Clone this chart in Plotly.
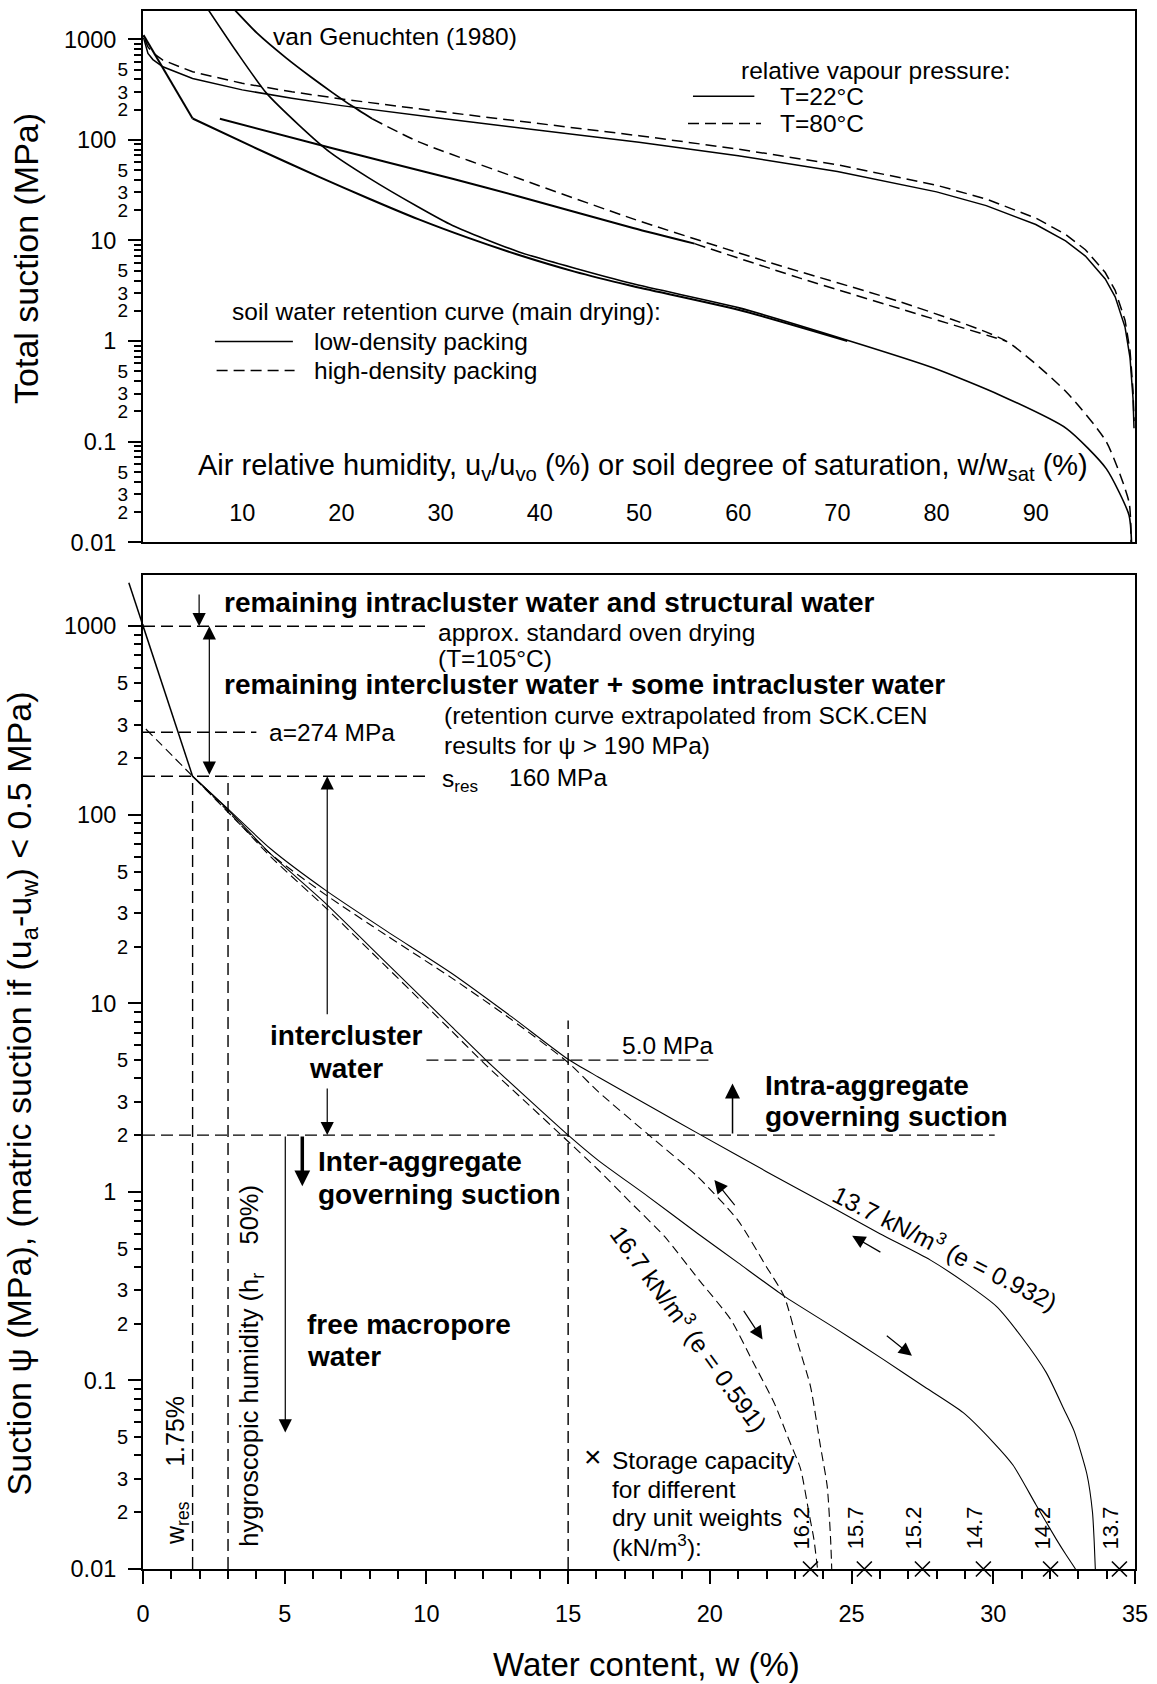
import math
import plotly.graph_objects as go

FONT = "Liberation Sans, Arial, Helvetica, sans-serif"
INK = "black"

# ---------------- upper panel: total suction vs u_v/u_vo or w/w_sat (%) ----------------
# relative vapour pressure curves
rh_t22 = [0.05, 0.5, 1, 2, 5, 10, 15, 20, 30, 40, 50, 60, 70, 80, 85, 90, 93, 95, 97, 98, 99, 99.5, 99.8, 99.9]
psi_t22 = [1040, 722, 628, 533, 408, 314, 259, 219, 164, 125, 94.5, 69.6, 48.6, 30.4, 22.2, 14.4, 9.9, 7.0,
           4.15, 2.75, 1.37, 0.68, 0.27, 0.136]
rh_t80 = [0.2, 0.5, 1, 2, 5, 10, 15, 20, 30, 40, 50, 60, 70, 80, 85, 90, 93, 95, 97, 98, 99, 99.5, 99.8, 99.9]
psi_t80 = [986, 840, 731, 621, 475, 365, 301, 255, 191, 145, 110, 81, 56.6, 35.4, 25.8, 16.7, 11.5, 8.1,
           4.8, 3.2, 1.6, 0.8, 0.32, 0.16]

# soil water retention, main drying (degree of saturation %)
sr_low_steep = [0.05, 5.0]
psi_low_steep = [1100, 163]
sr_low = [5.0, 11.1, 17.8, 22.8, 27.8, 32.8, 37.9, 43.5, 49.2, 60, 71]
psi_low = [163, 85, 42.7, 26, 16.2, 10.6, 7.16, 4.9, 3.55, 2.05, 1.0]

sr_high_solid = [7.75, 18.8, 31.2, 37.9, 49.4, 55.6]
psi_high_solid = [162, 84, 41, 27.4, 13.3, 9.3]
sr_high_dash = [55.6, 66.3, 76.3, 87]
psi_high_dash = [9.3, 4.2, 2.1, 1.0]

# van Genuchten (1980) fits
sr_vg1 = [6.6, 9.4, 12.4, 15.8, 18.8, 22.8, 27.8, 31.2, 37.9, 49.2, 60, 71, 79.7, 86.4, 93.1, 97.1, 99.4, 99.65]
psi_vg1 = [1950, 759, 295, 138, 76, 41.7, 21.4, 14.1, 7.7, 3.75, 2.15, 1.02, 0.54, 0.29, 0.135, 0.054, 0.0186, 0.01]
sr_vg2_solid = [9.26, 11.5, 14.45, 17.0, 19.1, 21.0, 23.1]
psi_vg2_solid = [1950, 1150, 650, 417, 295, 219, 162]
sr_vg2_dash = [23.1, 27.8, 37.9, 49.4, 63, 76.3, 87, 93.1, 97.1, 99.4, 99.6]
psi_vg2_dash = [162, 95.5, 41.3, 16.4, 6.1, 2.46, 1.0, 0.31, 0.1, 0.025, 0.01]

rh_ticks = [10, 20, 30, 40, 50, 60, 70, 80, 90]

# ---------------- lower panel: suction vs water content w (%) ----------------
# dry branch below the residual point (continues past w = 0)
w_dry_limit = [-0.5, 1.75]
psi_dry_limit = [1700, 160]

# 13.7 kN/m3 (e = 0.932)
w_s1 = [1.75, 2.95, 4.5, 6.46, 8.57, 10.9, 13.0, 15.0, 16.06, 17.9, 19.69, 22.0, 24.26, 26.0, 27.77, 29.0,
        30.11, 31.0, 31.87, 32.5, 32.85, 33.3, 33.5, 33.56, 33.6]
psi_s1 = [160, 109, 66, 39.6, 24.3, 14.4, 8.5, 5.05, 4.07, 2.84, 2.0, 1.28, 0.836, 0.6, 0.436, 0.33,
          0.247, 0.17, 0.11, 0.07, 0.054, 0.032, 0.02, 0.014, 0.01]
w_s2 = [1.75, 2.95, 4.5, 6.46, 8.57, 10.9, 12.1, 13.5, 15.0, 16.06, 17.8, 19.58, 21.0, 22.62, 24.4, 26.13,
        27.5, 28.94, 30.0, 30.7, 31.5, 32.22, 32.55, 32.9]
psi_s2 = [160, 108, 62, 33.7, 16.5, 7.5, 5.0, 3.2, 2.0, 1.47, 0.95, 0.60, 0.42, 0.28, 0.19, 0.129,
          0.094, 0.0675, 0.047, 0.0355, 0.022, 0.0144, 0.012, 0.01]

# 16.7 kN/m3 (e = 0.591)
w_da = [0.1, 1.75, 2.95, 4.5, 6.46, 8.57, 10.9, 13.0, 15.0, 16.06, 17.8, 19.58, 20.98, 22.0, 22.62, 23.1,
        23.55, 23.9, 24.14, 24.26, 24.3]
psi_da = [285, 160, 105, 62, 37.5, 23, 13.6, 8.2, 4.85, 3.4, 2.03, 1.2, 0.71, 0.40, 0.28, 0.158,
          0.093, 0.045, 0.0275, 0.0144, 0.01]
w_db = [1.75, 2.95, 4.5, 6.46, 8.57, 10.9, 12.1, 13.5, 15.0, 16.06, 17.2, 18.4, 19.6, 20.74, 21.5, 22.27,
        22.8, 23.2, 23.5, 23.67, 23.8]
psi_db = [160, 106, 60, 32, 15.7, 7.1, 4.7, 3.0, 1.85, 1.31, 0.88, 0.58, 0.344, 0.21, 0.127, 0.076,
          0.048, 0.034, 0.0197, 0.0144, 0.01]

# storage capacity for different dry unit weights
w_storage = [23.55, 25.45, 27.5, 29.65, 32.02, 34.45]
gamma_d_labels = ["16.2", "15.7", "15.2", "14.7", "14.2", "13.7"]

# reference suction levels (MPa) and water contents (%)
psi_oven = 1000
psi_a = 274
psi_res = 160
psi_5 = 5.0
psi_2 = 2.0
w_res = 1.75
w_hygro = 3.0
w_15 = 15.0

decade_vals = [0.01, 0.1, 1, 10, 100, 1000]
decade_text = ["0.01", "0.1", "1", "10", "100", "1000"]
minor_vals = [m * d for d in decade_vals for m in range(2, 10)]
minor_text = [str(m) if m in (2, 3, 5) else "" for d in decade_vals for m in range(2, 10)]
w_ticks = [0, 5, 10, 15, 20, 25, 30, 35]

TOP_RANGE = [-2, 3.281]
BOT_RANGE = [-2, 3.274]
W_RANGE = [0, 35]

DASH_TOP = "11px,6px"
DASH_CURVE = "9px,5px"
DASH_GUIDE = "12px,6px"

fig = go.Figure()


def line(x, y, xa, ya, width=1.5, dash="solid", shape="spline"):
    fig.add_trace(go.Scatter(
        x=x, y=y, mode="lines", xaxis=xa, yaxis=ya,
        line=dict(color=INK, width=width, dash=dash, shape=shape, smoothing=0.6),
        showlegend=False, hoverinfo="skip"))


# upper panel curves
line(rh_t22, psi_t22, "x", "y", 1.5, shape="linear")
line(rh_t80, psi_t80, "x", "y", 1.5, DASH_TOP, shape="linear")
line(sr_low_steep, psi_low_steep, "x", "y", 2.0, shape="linear")
line(sr_low, psi_low, "x", "y", 2.0)
line(sr_high_solid, psi_high_solid, "x", "y", 2.0)
line(sr_high_dash, psi_high_dash, "x", "y", 1.5, DASH_TOP)
line(sr_vg1, psi_vg1, "x", "y", 1.6)
line(sr_vg2_solid, psi_vg2_solid, "x", "y", 1.8)
line(sr_vg2_dash, psi_vg2_dash, "x", "y", 1.5, DASH_TOP)

# lower panel guide lines
line([0, 10], [psi_oven, psi_oven], "x2", "y2", 1.4, DASH_GUIDE, "linear")
line([0, 4.0], [psi_a, psi_a], "x2", "y2", 1.4, DASH_GUIDE, "linear")
line([0, 10], [psi_res, psi_res], "x2", "y2", 1.4, DASH_GUIDE, "linear")
line([10, 20], [psi_5, psi_5], "x2", "y2", 1.4, DASH_GUIDE, "linear")
line([0, 30.05], [psi_2, psi_2], "x2", "y2", 1.4, DASH_GUIDE, "linear")
line([w_res, w_res], [0.01, psi_res], "x2", "y2", 1.4, DASH_GUIDE, "linear")
line([w_hygro, w_hygro], [0.01, psi_res], "x2", "y2", 1.4, DASH_GUIDE, "linear")
line([w_15, w_15], [0.01, 8.1], "x2", "y2", 1.4, DASH_GUIDE, "linear")

# lower panel retention curves
line(w_dry_limit, psi_dry_limit, "x2", "y2", 1.5, shape="linear")
line(w_s1, psi_s1, "x2", "y2", 1.1)
line(w_s2, psi_s2, "x2", "y2", 1.1)
line(w_da, psi_da, "x2", "y2", 1.1, DASH_CURVE)
line(w_db, psi_db, "x2", "y2", 1.1, DASH_CURVE)


# the dry branch runs past the left axis: draw that bit unclipped in domain units
def to_domain(w, psi):
    return ((w - W_RANGE[0]) / (W_RANGE[1] - W_RANGE[0]),
            (math.log10(psi) - BOT_RANGE[0]) / (BOT_RANGE[1] - BOT_RANGE[0]))


(dx0, dy0), (dx1, dy1) = to_domain(w_dry_limit[0], psi_dry_limit[0]), to_domain(w_dry_limit[1], psi_dry_limit[1])
cut = (0 - dx0) / (dx1 - dx0)
fig.add_shape(type="line", xref="x2 domain", yref="y2 domain", x0=dx0, y0=dy0,
              x1=0, y1=dy0 + cut * (dy1 - dy0), line=dict(color=INK, width=1.5))

fig.add_trace(go.Scatter(
    x=w_storage, y=[0.01] * len(w_storage), mode="markers", xaxis="x2", yaxis="y2",
    marker=dict(symbol="x-thin", size=15, line=dict(width=1.6, color=INK)),
    cliponaxis=False, showlegend=False, hoverinfo="skip"))

# carriers for the helper axes (minor ticks, saturation labels)
fig.add_trace(go.Scatter(x=[None], y=[None], xaxis="x", yaxis="y3", showlegend=False, hoverinfo="skip"))
fig.add_trace(go.Scatter(x=[None], y=[None], xaxis="x2", yaxis="y4", showlegend=False, hoverinfo="skip"))
fig.add_trace(go.Scatter(x=[None], y=[None], xaxis="x3", yaxis="y", showlegend=False, hoverinfo="skip"))


def label(text, x, y, panel=2, size=24.5, bold=False, xanchor="left", yanchor="middle", angle=0, **kw):
    sfx = "" if panel == 1 else "2"
    fig.add_annotation(
        text=f"<b>{text}</b>" if bold else text, x=x, y=math.log10(y),
        xref="x" + sfx, yref="y" + sfx, showarrow=False, xanchor=xanchor, yanchor=yanchor,
        textangle=angle, font=dict(family=FONT, size=size, color=INK), **kw)


def arrow(x_tail, y_tail, x_head, y_head, width=1.2, size=2.2, head=2, side="end"):
    fig.add_annotation(
        x=x_head, y=math.log10(y_head), ax=x_tail, ay=math.log10(y_tail),
        xref="x2", yref="y2", axref="x2", ayref="y2", text="", showarrow=True,
        arrowhead=head, arrowsize=size, arrowwidth=width, arrowcolor=INK,
        arrowside=side, standoff=0, startstandoff=0)


# ---- upper panel texts
label("van Genuchten (1980)", 12.94, 10 ** 3.023, panel=1)
label("relative vapour pressure:", 60.12, 10 ** 2.692, panel=1)
label("T=22°C", 63.97, 10 ** 2.434, panel=1)
label("T=80°C", 63.97, 10 ** 2.162, panel=1)
label("soil water retention curve (main drying):", 8.76, 10 ** 0.292, panel=1)
label("low-density packing", 17.05, 10 ** -0.006, panel=1)
label("high-density packing", 17.05, 10 ** -0.294, panel=1)
label("Air relative humidity, u<sub>v</sub>/u<sub>vo</sub> (%) or soil degree of saturation, "
      "w/w<sub>sat</sub> (%)", 5.35, 10 ** -1.247, panel=1, size=29)

# legend key lines of the upper panel
for x0, x1, yy, dsh in [(0.5544, 0.6163, 0.8397, False), (0.5494, 0.6230, 0.7882, True),
                        (0.0725, 0.1511, 0.3778, False), (0.0742, 0.1528, 0.3233, True)]:
    fig.add_shape(type="line", xref="x domain", yref="y domain", x0=x0, x1=x1, y0=yy, y1=yy,
                  line=dict(color=INK, width=1.5, dash=DASH_TOP if dsh else "solid"))

# ---- lower panel texts
label("remaining intracluster water and structural water", 2.77, 10 ** 3.127, size=28, bold=True)
label("approx. standard oven drying", 10.33, 10 ** 2.965)
label("(T=105°C)", 10.33, 10 ** 2.83)
label("remaining intercluster water + some intracluster water", 2.77, 10 ** 2.691, size=28, bold=True)
label("(retention curve extrapolated from SCK.CEN", 10.56, 10 ** 2.529)
label("results for ψ > 190 MPa)", 10.56, 10 ** 2.365)
label("a=274 MPa", 4.36, 10 ** 2.436)
label("s<sub>res</sub>", 10.47, 10 ** 2.18)
label("160 MPa", 12.84, 10 ** 2.197)
label("5.0 MPa", 16.83, 10 ** 0.778)
label("intercluster", 7.165, 10 ** 0.831, size=28, bold=True, xanchor="center")
label("water", 7.165, 10 ** 0.655, size=28, bold=True, xanchor="center")
label("Intra-aggregate", 21.88, 10 ** 0.566, size=28, bold=True)
label("governing suction", 21.88, 10 ** 0.398, size=28, bold=True)
label("Inter-aggregate", 6.11, 10 ** 0.16, size=28, bold=True)
label("governing suction", 6.11, 10 ** -0.016, size=28, bold=True)
label("free macropore", 5.72, 10 ** -0.704, size=28, bold=True)
label("water", 5.72, 10 ** -0.871, size=28, bold=True)
label("hygroscopic humidity (h<sub>r</sub>    50%)", 3.83, 10 ** -0.924, size=25.5,
      xanchor="center", angle=-90)
label("w<sub>res</sub>     1.75%", 1.2, 10 ** -1.48, size=25, xanchor="center", angle=-90)
label("×", 15.89, 10 ** -1.402, size=30, xanchor="center")
label("Storage capacity", 16.47, 10 ** -1.427)
label("for different", 16.47, 10 ** -1.577)
label("dry unit weights", 16.47, 10 ** -1.727)
label("(kN/m<sup>3</sup>):", 16.47, 10 ** -1.877)
label("13.7 kN/m<sup>3</sup> (e = 0.932)", 28.32, 10 ** -0.291, xanchor="center", angle=26.7)
label("16.7 kN/m<sup>3</sup> (e = 0.591)", 19.31, 10 ** -0.717, xanchor="center", angle=54)
for wv, txt in zip(w_storage, gamma_d_labels):
    label(txt, wv, 0.01, size=22, xanchor="center", angle=-90, xshift=-8, yshift=41)

# ---- lower panel arrows
arrow(1.98, 1500, 1.98, 1000)
arrow(2.34, 160, 2.34, 1000, side="end+start")
arrow(6.5, 8.6, 6.5, 160)
arrow(6.5, 3.6, 6.5, 2.0)
arrow(5.02, 2.0, 5.02, 0.053)
arrow(5.62, 2.0, 5.62, 1.07, width=3.5, size=0.9)
arrow(20.8, 2.0, 20.8, 3.76, width=1.5, size=2.0)
arrow(20.92, 0.836, 20.16, 1.156)
arrow(21.16, 0.238, 21.86, 0.165)
arrow(26.07, 0.474, 25.02, 0.585)
arrow(26.19, 0.175, 27.13, 0.135)

# ---- axis titles
title_font = dict(family=FONT, size=34, color=INK)
fig.add_annotation(text="Total suction (MPa)", xref="paper", yref="paper", x=-0.1174, y=0.8412,
                   xanchor="center", yanchor="middle", textangle=-90, showarrow=False, font=title_font)
fig.add_annotation(text="Suction ψ (MPa), (matric suction if (u<sub>a</sub>-u<sub>w</sub>) &lt; 0.5 MPa)",
                   xref="paper", yref="paper", x=-0.1224, y=0.305, xanchor="center", yanchor="middle",
                   textangle=-90, showarrow=False, font=title_font)
fig.add_annotation(text="Water content, w (%)", xref="paper", yref="paper", x=0.5075, y=-0.0615,
                   xanchor="center", yanchor="middle", showarrow=False,
                   font=dict(family=FONT, size=33, color=INK))

tick_font = dict(family=FONT, size=23.5, color=INK)
frame = dict(showline=True, linecolor=INK, linewidth=2, mirror=True, showgrid=False, zeroline=False,
             tickcolor=INK, tickwidth=1.5, tickfont=tick_font)


def minor_axis(base, anchor, rng, size):
    return dict(overlaying=base, anchor=anchor, range=rng, type="log", tickmode="array",
                tickvals=minor_vals, ticktext=minor_text, ticks="outside", ticklen=8, tickwidth=1.5,
                tickcolor=INK, showline=False, showgrid=False, zeroline=False, side="left",
                ticklabelstandoff=2, tickfont=dict(family=FONT, size=size, color=INK))


fig.update_layout(
    width=1157, height=1684,
    margin=dict(l=143, r=17, t=9, b=115, pad=0),
    paper_bgcolor="white", plot_bgcolor="white",
    font=dict(family=FONT, color=INK),
    showlegend=False,
    xaxis=dict(domain=[0, 1], anchor="y", range=[0, 100], showticklabels=False, ticks="", **frame),
    xaxis3=dict(overlaying="x", anchor="free", position=0.6885, side="bottom", range=[0, 100],
                tickmode="array", tickvals=rh_ticks, ticktext=[str(v) for v in rh_ticks], ticks="",
                showline=False, showgrid=False, zeroline=False, ticklabelstandoff=0, tickfont=tick_font),
    yaxis=dict(domain=[0.659, 1], anchor="x", type="log", range=TOP_RANGE, tickmode="array",
               tickvals=decade_vals, ticktext=decade_text, ticks="outside", ticklen=13,
               ticklabelstandoff=7, **frame),
    yaxis3=minor_axis("y", "x", TOP_RANGE, 19),
    xaxis2=dict(domain=[0, 1], anchor="y2", range=W_RANGE, tickmode="array", tickvals=w_ticks,
                ticktext=[str(v) for v in w_ticks], ticks="outside", ticklen=13, ticklabelstandoff=10,
                minor=dict(dtick=1, ticklen=8, ticks="outside", tickwidth=1.5, tickcolor=INK), **frame),
    yaxis2=dict(domain=[0, 0.6383], anchor="x2", type="log", range=BOT_RANGE, tickmode="array",
                tickvals=decade_vals, ticktext=decade_text, ticks="outside", ticklen=13,
                ticklabelstandoff=7, **frame),
    yaxis4=minor_axis("y2", "x2", BOT_RANGE, 20),
)

fig.write_html("out.html", config={"displayModeBar": False})
